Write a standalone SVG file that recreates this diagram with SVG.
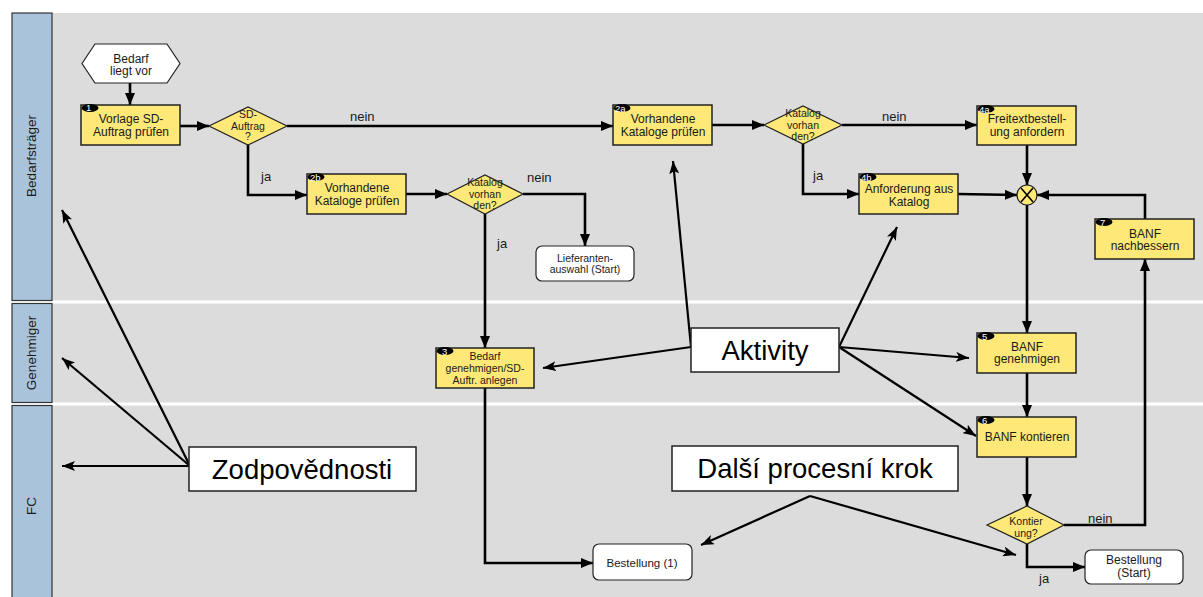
<svg xmlns="http://www.w3.org/2000/svg" width="1203" height="597" viewBox="0 0 1203 597">
  <defs>
    <style>
      text { font-family: "Liberation Sans", Arial, sans-serif; fill: #1a1a1a; }
      .lane-head { fill: #a9c4da; stroke: #333; stroke-width: 1.2; }
      .lane-label { font-size: 13.5px; text-anchor: middle; }
      .task { fill: #fde878; stroke: #222; stroke-width: 1.5; }
      .task-t { font-size: 12px; text-anchor: middle; }
      .task-s { font-size: 10.5px; text-anchor: middle; }
      .gate { fill: #fde878; stroke: #222; stroke-width: 1.2; }
      .gate-t { font-size: 10.5px; text-anchor: middle; }
      .event { fill: #ffffff; stroke: #222; stroke-width: 1.2; }
      .badge { fill: #000; }
      .badge-t { font-size: 9.5px; fill: #ffffff; }
      .flow { fill: none; stroke: #000; stroke-width: 2.6; stroke-linejoin: miter; marker-end: url(#arr); }
      .lbl { font-size: 13px; }
      .note { fill: #ffffff; stroke: #222; stroke-width: 1.5; }
      .note-t { font-size: 27.5px; text-anchor: middle; fill: #000; }
      .pointer { fill: none; stroke: #000; stroke-width: 2.2; marker-end: url(#arr2); }
    </style>
    <marker id="arr" viewBox="0 0 12 10" refX="12" refY="5" markerWidth="12" markerHeight="10" markerUnits="userSpaceOnUse" orient="auto">
      <path d="M0,0 L12,5 L0,10 z" fill="#000"/>
    </marker>
    <marker id="arr2" viewBox="0 0 13 10" refX="13" refY="5" markerWidth="13" markerHeight="10" markerUnits="userSpaceOnUse" orient="auto">
      <path d="M0,0 L13,5 L0,10 L3,5 z" fill="#000"/>
    </marker>
  </defs>

  <!-- background and lanes -->
  <rect x="0" y="0" width="1203" height="597" fill="#ffffff"/>
  <rect x="52" y="13" width="1151" height="584" fill="#dcdcdc"/>
  <rect x="12" y="300.5" width="1191" height="3" fill="#ffffff"/>
  <rect x="12" y="402.5" width="1191" height="3" fill="#ffffff"/>

  <g id="lane-bedarfstraeger">
    <rect class="lane-head" x="12" y="13" width="40" height="287.5"/>
    <text class="lane-label" transform="translate(36,156) rotate(-90)">Bedarfsträger</text>
  </g>
  <g id="lane-genehmiger">
    <rect class="lane-head" x="12" y="303.5" width="40" height="99"/>
    <text class="lane-label" transform="translate(36,353) rotate(-90)">Genehmiger</text>
  </g>
  <g id="lane-fc">
    <rect class="lane-head" x="12" y="405.5" width="40" height="200"/>
    <text class="lane-label" transform="translate(36,506) rotate(-90)">FC</text>
  </g>

  <!-- connectors -->
  <g id="connectors">
    <path class="flow" d="M130,83 L130,105"/>
    <path class="flow" d="M180,126 L209,126"/>
    <path class="flow" d="M287,126 L613,126"/>
    <path class="flow" d="M248,145 L248,195 L307,195"/>
    <path class="flow" d="M406,194 L447,194"/>
    <path class="flow" d="M523,194 L585,194 L585,246"/>
    <path class="flow" d="M485,214 L485,348"/>
    <path class="flow" d="M485,388 L485,563 L593,563"/>
    <path class="flow" d="M712,125 L764,125"/>
    <path class="flow" d="M842,125 L977,125"/>
    <path class="flow" d="M803,144 L803,194 L859,194"/>
    <path class="flow" d="M958,194 L1017,195"/>
    <path class="flow" d="M1027,145 L1027,185"/>
    <path class="flow" d="M1145,219 L1145,195 L1037,195"/>
    <path class="flow" d="M1027,205 L1027,333"/>
    <path class="flow" d="M1027,373 L1027,417"/>
    <path class="flow" d="M1027,457 L1027,506"/>
    <path class="flow" d="M1064,525 L1145,525 L1145,259"/>
    <path class="flow" d="M1027,544 L1027,567 L1085,567"/>
    <text class="lbl" x="350" y="121">nein</text>
    <text class="lbl" x="261" y="181">ja</text>
    <text class="lbl" x="527" y="182">nein</text>
    <text class="lbl" x="497" y="248">ja</text>
    <text class="lbl" x="882" y="121">nein</text>
    <text class="lbl" x="813" y="180">ja</text>
    <text class="lbl" x="1088" y="523">nein</text>
    <text class="lbl" x="1039" y="583">ja</text>
  </g>

  <!-- start event -->
  <g id="start">
    <polygon class="event" points="82,63.5 95,44 167,44 180,63.5 167,83 95,83"/>
    <text class="task-t" x="131" y="63">Bedarf</text>
    <text class="task-t" x="131" y="75">liegt vor</text>
  </g>

  <!-- tasks -->
  <g id="task-1">
    <rect class="task" x="81" y="105" width="99" height="40"/>
    <ellipse class="badge" cx="90" cy="108" rx="8.5" ry="4"/>
    <text class="badge-t" x="86" y="111">1</text>
    <text class="task-t" x="131" y="123">Vorlage SD-</text>
    <text class="task-t" x="131" y="136">Auftrag prüfen</text>
  </g>
  <g id="task-2b">
    <rect class="task" x="307" y="174" width="99" height="40"/>
    <ellipse class="badge" cx="316" cy="177" rx="8.5" ry="4"/>
    <text class="badge-t" x="310" y="181">2b</text>
    <text class="task-t" x="357" y="192">Vorhandene</text>
    <text class="task-t" x="357" y="205">Kataloge prüfen</text>
  </g>
  <g id="task-3">
    <rect class="task" x="436" y="348" width="98" height="40"/>
    <ellipse class="badge" cx="445" cy="351" rx="8.5" ry="4"/>
    <text class="badge-t" x="442" y="355">3</text>
    <text class="task-s" x="485" y="360">Bedarf</text>
    <text class="task-s" x="485" y="372">genehmigen/SD-</text>
    <text class="task-s" x="485" y="384">Auftr. anlegen</text>
  </g>
  <g id="task-2a">
    <rect class="task" x="613" y="105" width="99" height="40"/>
    <ellipse class="badge" cx="622" cy="108" rx="8.5" ry="4"/>
    <text class="badge-t" x="615" y="112">2a</text>
    <text class="task-t" x="663" y="123">Vorhandene</text>
    <text class="task-t" x="663" y="136">Kataloge prüfen</text>
  </g>
  <g id="task-4a">
    <rect class="task" x="977" y="106" width="99" height="39"/>
    <ellipse class="badge" cx="986" cy="109" rx="8.5" ry="4"/>
    <text class="badge-t" x="979" y="113">4a</text>
    <text class="task-t" x="1027" y="123">Freitextbestell-</text>
    <text class="task-t" x="1027" y="136">ung anfordern</text>
  </g>
  <g id="task-4b">
    <rect class="task" x="859" y="174" width="99" height="40"/>
    <ellipse class="badge" cx="868" cy="177" rx="8.5" ry="4"/>
    <text class="badge-t" x="861" y="181">4b</text>
    <text class="task-t" x="909" y="193">Anforderung aus</text>
    <text class="task-t" x="909" y="206">Katalog</text>
  </g>
  <g id="task-7">
    <rect class="task" x="1095" y="219" width="99" height="40"/>
    <ellipse class="badge" cx="1104" cy="222" rx="8.5" ry="4"/>
    <text class="badge-t" x="1100" y="226">7</text>
    <text class="task-t" x="1145" y="238">BANF</text>
    <text class="task-t" x="1145" y="250">nachbessern</text>
  </g>
  <g id="task-5">
    <rect class="task" x="977" y="333" width="99" height="40"/>
    <ellipse class="badge" cx="986" cy="336" rx="8.5" ry="4"/>
    <text class="badge-t" x="982" y="340">5</text>
    <text class="task-t" x="1027" y="351">BANF</text>
    <text class="task-t" x="1027" y="363">genehmigen</text>
  </g>
  <g id="task-6">
    <rect class="task" x="977" y="417" width="99" height="40"/>
    <ellipse class="badge" cx="986" cy="420" rx="8.5" ry="4"/>
    <text class="badge-t" x="982" y="424">6</text>
    <text class="task-t" x="1027" y="441">BANF kontieren</text>
  </g>

  <!-- decisions -->
  <g id="gate-sd">
    <polygon class="gate" points="209,126 248,107 287,126 248,145"/>
    <text class="gate-t" x="248" y="118">SD-</text>
    <text class="gate-t" x="248" y="130">Auftrag</text>
    <text class="gate-t" x="248" y="140">?</text>
  </g>
  <g id="gate-katalog-1">
    <polygon class="gate" points="447,194 485,175 523,194 485,214"/>
    <text class="gate-t" x="485" y="186">Katalog</text>
    <text class="gate-t" x="485" y="198">vorhan</text>
    <text class="gate-t" x="485" y="209">den?</text>
  </g>
  <g id="gate-katalog-2">
    <polygon class="gate" points="764,125 803,106 842,125 803,144"/>
    <text class="gate-t" x="803" y="117">Katalog</text>
    <text class="gate-t" x="803" y="129">vorhan</text>
    <text class="gate-t" x="803" y="140">den?</text>
  </g>
  <g id="gate-kontierung">
    <polygon class="gate" points="987,525 1027,506 1064,525 1027,544"/>
    <text class="gate-t" x="1026" y="525">Kontier</text>
    <text class="gate-t" x="1026" y="537">ung?</text>
  </g>
  <g id="xor-join">
    <circle class="gate" cx="1027" cy="195" r="10" stroke-width="1.5"/>
    <path d="M1021,188 L1033,202 M1033,188 L1021,202" stroke="#000" stroke-width="1.6" fill="none"/>
  </g>

  <!-- end / follow-up events -->
  <g id="event-lieferantenauswahl">
    <rect class="event" x="536" y="246" width="98" height="35" rx="6"/>
    <text class="task-s" x="585" y="262">Lieferanten-</text>
    <text class="task-s" x="585" y="273">auswahl (Start)</text>
  </g>
  <g id="event-bestellung-1">
    <rect class="event" x="593" y="544" width="99" height="36" rx="6"/>
    <text class="task-t" x="642" y="567" style="font-size:11.5px">Bestellung (1)</text>
  </g>
  <g id="event-bestellung-start">
    <rect class="event" x="1085" y="550" width="98" height="34" rx="6"/>
    <text class="task-t" x="1134" y="564">Bestellung</text>
    <text class="task-t" x="1134" y="577">(Start)</text>
  </g>

  <!-- legend callouts -->
  <g id="callout-pointers">
    <path class="pointer" d="M691,347 L673,161"/>
    <path class="pointer" d="M691,347 L543,368"/>
    <path class="pointer" d="M839,347 L897,227"/>
    <path class="pointer" d="M839,347 L969,358"/>
    <path class="pointer" d="M839,347 L976,436"/>
    <path class="pointer" d="M190,466 L62,210"/>
    <path class="pointer" d="M190,466 L62,358"/>
    <path class="pointer" d="M190,466 L62,466"/>
    <path class="pointer" d="M810,496 L701,545"/>
    <path class="pointer" d="M810,496 L1016,555"/>
  </g>
  <g id="callout-aktivity">
    <rect class="note" x="691" y="328" width="148" height="44"/>
    <text class="note-t" x="765" y="360">Aktivity</text>
  </g>
  <g id="callout-zodpovednosti">
    <rect class="note" x="189" y="447" width="227" height="44"/>
    <text class="note-t" x="302" y="479">Zodpovědnosti</text>
  </g>
  <g id="callout-dalsi-krok">
    <rect class="note" x="672" y="446" width="286" height="45"/>
    <text class="note-t" x="815" y="478">Další procesní krok</text>
  </g>
</svg>
